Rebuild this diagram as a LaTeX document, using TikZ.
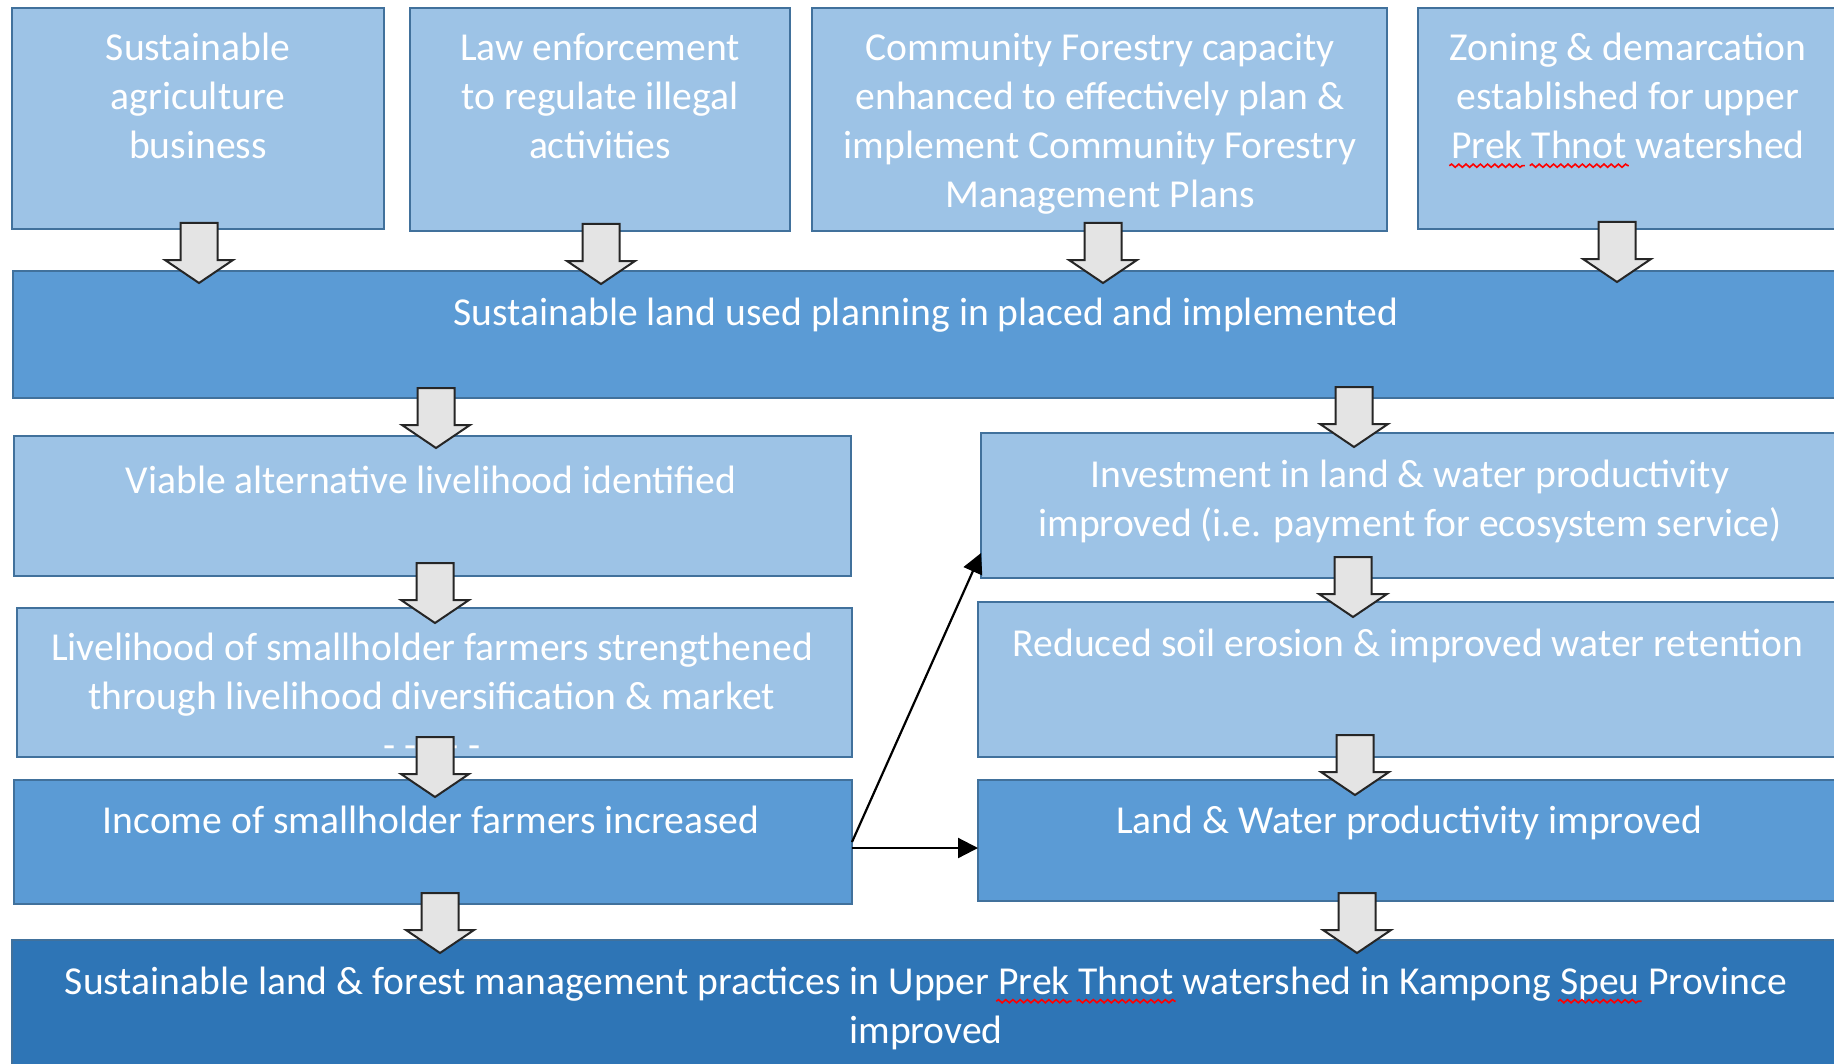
\documentclass[tikz,border=0pt]{standalone}
\usepackage{fontspec}
\setmainfont{Carlito}
\usetikzlibrary{calc,arrows.meta,decorations.pathmorphing}

\definecolor{lightbox}{HTML}{9DC3E6}
\definecolor{midbox}{HTML}{5B9BD5}
\definecolor{darkbox}{HTML}{2E75B6}
\definecolor{boxedge}{HTML}{41719C}
\definecolor{arrowfill}{HTML}{E4E4E4}

\tikzset{
  boxbase/.style={draw=boxedge, line width=1.3pt, inner sep=0pt, outer sep=0pt, anchor=north west},
  lightnode/.style={boxbase, fill=lightbox},
  midnode/.style={boxbase, fill=midbox},
  darknode/.style={boxbase, fill=darkbox},
  txt/.style={font=\fontsize{19.8pt}{24.5pt}\selectfont, text=white, align=center, inner sep=0pt, outer sep=0pt, anchor=north,
    execute at begin node={\rule{0pt}{16pt}}},
  blockarrow/.style={draw=black!85, line width=1pt, fill=arrowfill, line join=miter},
  thinarrow/.style={draw=black, line width=1.1pt, -{Triangle[length=10pt,width=10pt]}}
}

% box: name, style, x1, y1, x2, y2 (pixel units)
\newcommand\mkbox[6]{\node[#2, minimum width={(#5-#3)*0.5pt}, minimum height={(#6-#4)*0.5pt}] (#1) at (#3,#4) {};}
% block arrow: centre x, source, target, tip offset below target top (pixel units)
\newcommand\barrow[4]{%
  \draw[blockarrow] let \p1=(#3.north) in
    ({#1*0.5pt-9.25pt},{\y1-#4*0.5pt+30pt}) -- ({#1*0.5pt+9.25pt},{\y1-#4*0.5pt+30pt})
    -- ({#1*0.5pt+9.25pt},{\y1-#4*0.5pt+11.5pt}) -- ({#1*0.5pt+17pt},{\y1-#4*0.5pt+11.5pt})
    -- ({#1*0.5pt},{\y1-#4*0.5pt}) -- ({#1*0.5pt-17pt},{\y1-#4*0.5pt+11.5pt})
    -- ({#1*0.5pt-9.25pt},{\y1-#4*0.5pt+11.5pt}) -- cycle;}
% spell-check squiggle under a word
\newcommand\spell[1]{\tikz[baseline=0pt]{\node[inner sep=0pt,outer sep=0pt,anchor=base,text=white,draw=none,fill=none] (spw) at (0pt,0pt) {#1};
  \draw[overlay,red,line width=0.8pt,decorate,decoration={snake,amplitude=0.8pt,segment length=3.6pt}] ([xshift=-1pt,yshift=-3.6pt]spw.base west) -- ([xshift=1pt,yshift=-3.6pt]spw.base east);}}

\begin{document}
\begin{tikzpicture}[x=0.5pt,y=-0.5pt]
\useasboundingbox (0,0) rectangle (1834,1064);
\clip (0,0) rectangle (1834,1064);
\fill[white] (0,0) rectangle (1834,1064);

% boxes
\mkbox{b1}{lightnode}{12}{8}{384}{229}
\mkbox{b2}{lightnode}{410}{8}{790}{231}
\mkbox{b3}{lightnode}{812}{8}{1387}{231}
\mkbox{b4}{lightnode}{1418}{8}{1840}{229}
\mkbox{b5}{midnode}{13}{271}{1840}{398}
\mkbox{b6}{lightnode}{14}{436}{851}{576}
\mkbox{b7}{lightnode}{981}{433}{1840}{578}
\mkbox{b8}{lightnode}{17}{608}{852}{757}
\mkbox{b9}{lightnode}{978}{602}{1840}{757}
\mkbox{b10}{midnode}{14}{780}{852}{904}
\mkbox{b11}{midnode}{978}{780}{1840}{901}
\mkbox{b12}{darknode}{12}{940}{1840}{1072}

% texts
\node[txt] (t1) at (198,33) {Sustainable\\agriculture\\business};
\node[txt] (t2) at (600,33) {Law enforcement\\to regulate illegal\\activities};
\node[txt] (t3) at (1100,33) {Community Forestry capacity\\enhanced to effectively plan \&\\implement Community Forestry\\Management Plans};
\node[txt] (t4) at (1628,33) {Zoning \& demarcation\\established for upper\\\spell{Prek} \spell{Thnot} watershed};
\node[txt] (t5) at (926,293) {Sustainable land used planning in placed and implemented};
\node[txt] (t6) at (431,461) {Viable alternative livelihood identified};
\node[txt] (t7) at (1410,460) {Investment in land \& water productivity\\improved (i.e. payment for ecosystem service)};
\node[txt] (t8) at (432,633) {Livelihood of smallholder farmers strengthened\\through livelihood diversification \& market\\- - - - -};
\node[txt] (t9) at (1408,624) {Reduced soil erosion \& improved water retention};
\node[txt] (t10) at (431,801) {Income of smallholder farmers increased};
\node[txt] (t11) at (1409,801) {Land \& Water productivity improved};
\node[txt] (t12) at (926,962) {Sustainable land \& forest management practices in Upper \spell{Prek} \spell{Thnot} watershed in Kampong \spell{Speu} Province\\improved};

% block arrows
\barrow{199}{b1}{b5}{12}
\barrow{601}{b2}{b5}{13}
\barrow{1103}{b3}{b5}{12}
\barrow{1617}{b4}{b5}{11}
\barrow{436}{b5}{b6}{12}
\barrow{1354}{b5}{b7}{14}
\barrow{435}{b6}{b8}{15}
\barrow{1353}{b7}{b9}{15}
\barrow{435}{b8}{b10}{17}
\barrow{1355}{b9}{b11}{15}
\barrow{440}{b10}{b12}{13}
\barrow{1357}{b11}{b12}{13}

% thin arrows
\draw[thinarrow] (b10.east) -- ($(b7.south west)+(0,-25)$);
\draw[thinarrow] ([yshift=-3pt]b10.east) -- ([yshift=-3pt]b10.east -| b11.west);
\end{tikzpicture}
\end{document}
